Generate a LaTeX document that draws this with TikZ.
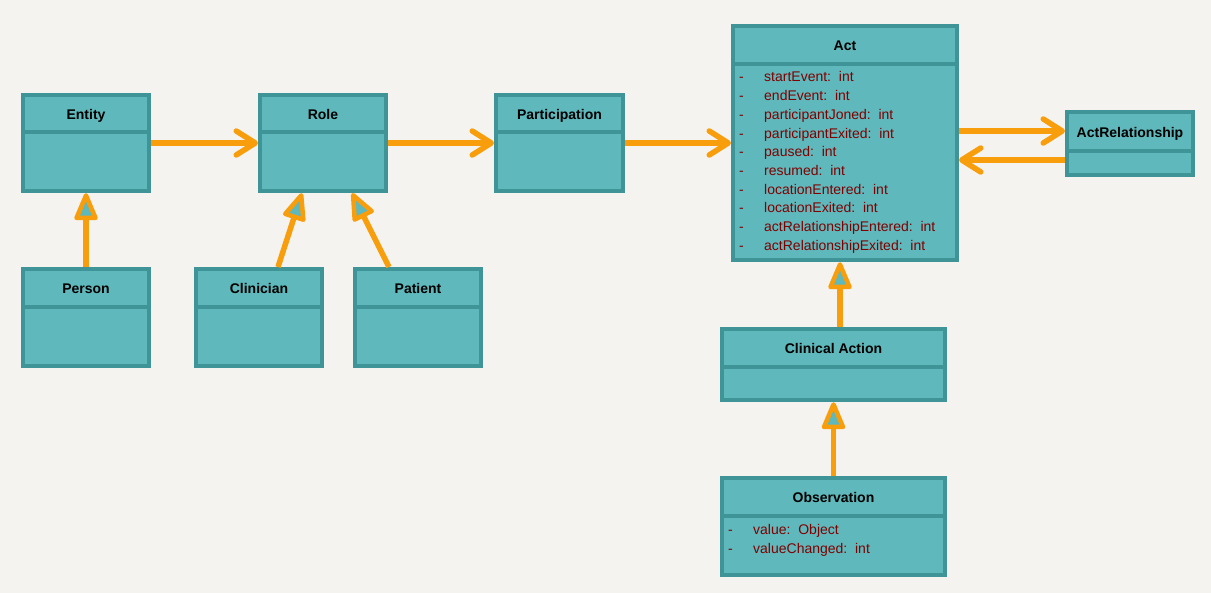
\documentclass[tikz,border=0pt]{standalone}
\usepackage{fontspec}
\setmainfont{Liberation Sans}
\usetikzlibrary{arrows.meta,calc}
\definecolor{bg}{HTML}{F4F3EF}
\definecolor{boxfill}{HTML}{5FB8BB}
\definecolor{boxline}{HTML}{3F9497}
\definecolor{arr}{HTML}{F89D0C}
\definecolor{attr}{HTML}{800000}
\tikzset{
  umlbox/.style={draw=boxline, fill=boxfill, line width=4pt, rectangle, inner sep=0pt},
  divline/.style={draw=boxline, line width=4pt},
  boxtitle/.style={font=\fontsize{14}{16}\selectfont\bfseries, text height=10pt, text depth=0pt, inner sep=0pt},
  attrtext/.style={font=\fontsize{14}{16}\selectfont, text=attr, text height=10pt, text depth=0pt, inner sep=0pt, anchor=west},
  assoc/.style={draw=arr, line width=5.5pt, -{Straight Barb[length=19pt,width=24pt,round]}},
  inhline/.style={draw=arr, line width=5.5pt},
  inhhead/.style={draw=arr, fill=boxfill, line width=4.5pt, line join=round},
}
\newcommand\umlbox[7]{%
  \node[umlbox, minimum width={(#4-#2-4)*1pt}, minimum height={(#5-#3-4)*1pt}] (#1) at ({(#2+#4)/2},{-(#3+#5)/2}) {};
  \draw[divline] (#1.west |- 0,-#6) -- (#1.east |- 0,-#6);
  \node[boxtitle] (#1-t) at ({(#2+#4)/2},{-(#3+#6)/2-2}) {#7};
}
\newcommand\inh[2]{%
  \path (#1) coordinate (is) (#2) coordinate (it);
  \path ($(it)!2.5pt!(is)$) coordinate (ip) ($(it)!25pt!(is)$) coordinate (ib);
  \draw[inhline] (is) -- (ib);
  \draw[inhhead] (ip) -- ($(ib)!9.5pt!90:(ip)$) -- ($(ib)!9.5pt!-90:(ip)$) -- cycle;
}
\begin{document}
\begin{tikzpicture}[x=1pt,y=1pt]
\path[fill=bg] (0,0) rectangle (1211,-593);
\useasboundingbox (0,0) rectangle (1211,-593);

\umlbox{entity}{21}{93}{151}{193}{132}{Entity}
\umlbox{role}{258}{93}{388}{193}{132}{Role}
\umlbox{part}{494}{93}{625}{193}{132}{Participation}
\umlbox{act}{731}{24}{959}{262}{64}{Act}
\umlbox{arel}{1065}{110}{1195}{177}{151}{ActRelationship}
\umlbox{person}{21}{267}{151}{368}{307}{Person}
\umlbox{clin}{194}{267}{324}{368}{307}{Clinician}
\umlbox{patient}{353}{267}{483}{368}{307}{Patient}
\umlbox{cact}{720}{327}{947}{402}{367}{Clinical Action}
\umlbox{obs}{720}{476}{947}{577}{516}{Observation}

% Act attributes
\foreach \i/\t in {0/startEvent,1/endEvent,2/participantJoned,3/participantExited,4/paused,5/resumed,6/locationEntered,7/locationExited,8/actRelationshipEntered,9/actRelationshipExited}{
  \node[attrtext] (actd\i) at (739,{-(77+18.67*\i)}) {-};
  \node[attrtext] (acta\i) at (764,{-(77+18.67*\i)}) {\t:\ \ int};
}
% Observation attributes
\node[attrtext] (obsd0) at (728,-529) {-};
\node[attrtext] (obsa0) at (753,-529) {value:\ \ Object};
\node[attrtext] (obsd1) at (728,-548) {-};
\node[attrtext] (obsa1) at (753,-548) {valueChanged:\ \ int};

% associations
\draw[assoc] (entity.east) -- (role.west);
\draw[assoc] (role.east) -- (part.west);
\draw[assoc] (part.east) -- (act.west);
\draw[assoc] (act.east |- 0,-131) -- (arel.west |- 0,-131);
\draw[assoc] (arel.west |- 0,-160) -- (act.east |- 0,-160);

% inheritance
\inh{person.north}{entity.south}
\inh{$(clin.north)+(19pt,0)$}{$(role.south)+(-21pt,0)$}
\inh{$(patient.north)+(-29pt,0)$}{$(role.south)+(29pt,0)$}
\inh{$(cact.north)+(6.5pt,0)$}{$(act.south)+(-5pt,0)$}
\inh{obs.north}{cact.south}
\end{tikzpicture}
\end{document}
